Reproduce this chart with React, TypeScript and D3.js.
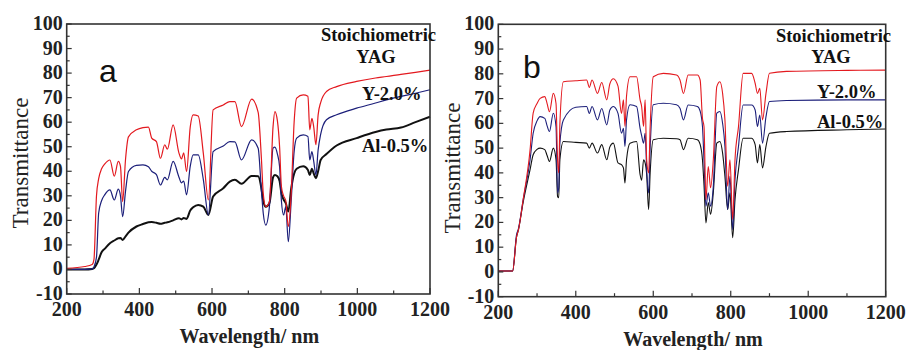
import React from "react";
import * as d3 from "d3";

// ── Data: panel a ─────────────────────────────────────────────
const WL_A = [
  200, 250, 270, 275, 282, 288, 296, 305, 319, 331, 342, 348, 354, 362, 370,
  392, 410, 425, 434, 447, 458, 470, 477, 493, 509, 516, 522, 530, 540, 548,
  562, 576, 590, 603, 631, 649, 663, 681, 709, 727, 736, 741, 748, 758, 768,
  773, 780, 786, 791, 797, 803, 810, 818, 826, 833, 851, 864, 869, 875, 880,
  886, 892, 899, 915, 943, 998, 1050, 1080, 1120, 1160, 1200,
];
const STOICH_A = [
  0.5, 1.2, 2, 4, 30, 37, 41, 43, 44.6, 38, 44, 42, 27.6, 45, 54,
  56.9, 57.8, 58, 53.5, 52.1, 45.3, 50.8, 49, 58.9, 47.4, 45, 47.5, 39.9, 58, 63,
  62.5, 47.4, 28.3, 65, 67, 68.4, 68.4, 58.2, 69.4, 64, 45, 31, 25.6, 27.6, 58.2,
  64.3, 60.5, 50, 33.8, 30, 28, 17.5, 31, 60, 69.8, 71.1, 70.6, 56.9, 61.6, 58,
  50.8, 62.9, 68, 72.5, 74.5, 76.6, 78, 78.6, 79.5, 80.3, 81.2,
];
const Y20_A = [
  0, 0, 0.2, 1, 5, 23, 28, 30.5, 32.4, 28.3, 32.7, 30, 21.5, 32, 39.9,
  42.4, 42.6, 41.8, 40, 38.6, 34.4, 37.5, 36.5, 44, 37.6, 35.3, 36, 30.4, 42, 46.7,
  46.7, 36.7, 22.2, 48, 50.3, 52.1, 52, 44.6, 52.8, 49.4, 32, 22.9, 18.1, 25.6, 49.4,
  49.8, 47, 41.9, 28, 22.2, 25.6, 11.3, 28.1, 48, 53.5, 54.8, 54.2, 44.6, 48, 44,
  38.5, 48.6, 55, 61, 63, 65.7, 67.8, 69.1, 70.5, 71.8, 73.2,
];
const AL05_A = [
  0, 0, 0.2, 0.5, 2, 4, 7, 8.5, 10.7, 11.8, 12.7, 12.8, 12, 13.5, 15,
  17.5, 18.5, 19.2, 19.3, 19, 18.6, 19, 19.2, 20, 20.9, 20.4, 21, 20.6, 24, 25.3,
  26.3, 25.6, 22.2, 29.7, 33.1, 35.8, 36.5, 34.9, 38.1, 38, 33, 28, 25.5, 27, 37.5,
  38.5, 38, 36, 31, 28.5, 27, 23.6, 33, 39, 41, 42, 40.5, 38.5, 41, 39,
  37.2, 40, 44.6, 47, 50.5, 53.5, 56, 57, 57.8, 60, 62.2,
];

// ── Data: panel b ─────────────────────────────────────────────
const WL_B = [
  200, 237, 247, 252, 264, 282, 290, 300, 308, 320, 326, 332, 342, 349, 353,
  356, 359, 368, 400, 428, 435, 442, 456, 467, 480, 488, 497, 509, 518, 523,
  527, 531, 540, 557, 566, 570, 575, 579, 583, 588, 592, 600, 626, 660, 669,
  678, 690, 714, 721, 727, 731, 736, 742, 748, 755, 764, 772, 779, 785, 792,
  798, 805, 811, 820, 832, 854, 863, 869, 875, 882, 891, 900, 944, 1100, 1200,
];
const STOICH_B = [
  0.4, 0.4, 14, 17, 29, 49.3, 64.1, 68, 70.1, 70.8, 68, 64.7, 72.1, 68, 45.3,
  40, 60, 76.8, 77.2, 77.5, 74.5, 77.5, 72.1, 76.5, 69.5, 76, 78, 75, 64, 69.5,
  58.7, 71, 78.8, 78.8, 69.5, 66.8, 58.7, 69.5, 45.3, 40, 58.7, 78.8, 80.2, 79.5, 77.5,
  72.1, 79.5, 79.5, 77.5, 62, 58.7, 29.2, 42.6, 34, 45.3, 74.8, 76.8, 72.1, 61.4, 34.6,
  45.3, 21.2, 45.3, 58.7, 80.2, 80.2, 76.2, 72.1, 74.2, 61.4, 72.1, 80.2, 81, 81.4, 81.5,
];
const Y20_B = [
  0.4, 0.4, 15, 17.5, 29, 45.3, 56, 61, 62.7, 62, 59, 56.7, 64.1, 58.7, 31.9,
  34, 52, 61.4, 66.5, 66.8, 64, 66.8, 61.4, 66, 59.4, 65.4, 66.8, 64, 56, 58,
  50.7, 61.4, 67.5, 66.8, 58, 55, 52, 56, 41.3, 31.9, 50, 67.5, 68.1, 67.5, 66.1,
  61.4, 67.4, 66.8, 65, 58.7, 45, 26.5, 32, 26.5, 34.6, 64.1, 64.8, 60, 50.7, 25.2,
  38.6, 17.1, 37.2, 50.7, 67.4, 67.4, 65.4, 58.7, 63.4, 52, 62.7, 68.8, 69.2, 69.5, 69.5,
];
const AL05_B = [
  0.4, 0.4, 14, 17, 28, 41.3, 47.3, 49.5, 50, 49.4, 47, 44.6, 50, 45.3, 30.5,
  30, 45.3, 52.7, 52.3, 52, 50, 52, 48, 51.4, 45.3, 50.5, 52, 44, 43.3, 42,
  35.9, 45.3, 52, 52.7, 39.3, 37, 45.3, 44, 39.3, 25.2, 40, 53.4, 54, 53.8, 53.4,
  49.4, 54, 53.4, 51.5, 45.3, 35, 19.8, 28, 23.3, 32, 52, 52.7, 48, 38.6, 25.2,
  32, 13.8, 29.2, 41.3, 54, 54, 51.4, 44, 51.4, 42, 50.7, 56, 56.7, 57.4, 57.7,
];

const X_TICKS = [200, 400, 600, 800, 1000, 1200];
const Y_TICKS = [-10, 0, 10, 20, 30, 40, 50, 60, 70, 80, 90, 100];
const LEGEND = ["Stoichiometric", "YAG", "Y-2.0%", "Al-0.5%"];

const RED = "#e3191f";
const BLUE = "#1c1f7a";
const BLACK = "#111111";
const FRAME = "#333";
const SERIF = "'Liberation Serif', 'Times New Roman', serif";
const SANS = "'Liberation Sans', Arial, sans-serif";

interface PanelProps {
  left: number;
  right: number;
  top: number;
  bottom: number;
  letter: string;
  letterX: number;
  letterY: number;
  wl: number[];
  series: { values: number[]; color: string; width: number }[];
  legendX: number;
  legendY: number[];
  titleX: number;
  yTitleX: number;
  yTitleY: number;
}

function Panel(p: PanelProps) {
  const x = d3.scaleLinear().domain([200, 1200]).range([p.left, p.right]);
  const y = d3.scaleLinear().domain([-10, 100]).range([p.bottom, p.top]);
  const line = (vals: number[]) =>
    d3
      .line<number>()
      .x((_d, i) => x(p.wl[i]))
      .y((d) => y(d))
      .curve(d3.curveMonotoneX)(vals) ?? "";

  const minorX = d3.range(300, 1200, 200);
  const minorY = d3.range(-5, 100, 10);

  return (
    <g>
      {p.series.map((s, i) => (
        <path key={i} d={line(s.values)} fill="none" stroke={s.color} strokeWidth={s.width} strokeLinejoin="round" />
      ))}

      <rect x={p.left} y={p.top} width={p.right - p.left} height={p.bottom - p.top} fill="none" stroke={FRAME} strokeWidth={1.6} />

      {/* ticks — inward, bottom and left only */}
      {X_TICKS.map((t) => (
        <line key={t} x1={x(t)} x2={x(t)} y1={p.bottom} y2={p.bottom - 6} stroke={FRAME} strokeWidth={1.2} />
      ))}
      {minorX.map((t) => (
        <line key={t} x1={x(t)} x2={x(t)} y1={p.bottom} y2={p.bottom - 3.5} stroke={FRAME} strokeWidth={1.2} />
      ))}
      {Y_TICKS.map((t) => (
        <line key={t} x1={p.left} x2={p.left + 5} y1={y(t)} y2={y(t)} stroke={FRAME} strokeWidth={1.2} />
      ))}
      {minorY.map((t) => (
        <line key={t} x1={p.left} x2={p.left + 3} y1={y(t)} y2={y(t)} stroke={FRAME} strokeWidth={1.2} />
      ))}

      {X_TICKS.map((t) => (
        <text key={t} x={x(t)} y={p.bottom + 22} textAnchor="middle" fontFamily={SERIF} fontWeight="bold" fontSize={20} fill="#222">
          {t}
        </text>
      ))}
      {Y_TICKS.map((t) => (
        <text key={t} x={p.left - 4} y={y(t) + 6} textAnchor="end" fontFamily={SERIF} fontWeight="bold" fontSize={20} fill="#222">
          {t}
        </text>
      ))}

      <text
        transform={`translate(${p.yTitleX},${p.yTitleY}) rotate(-90)`}
        textAnchor="middle"
        fontFamily={SERIF}
        fontSize={23}
        fill="#222"
      >
        Transmittance
      </text>
      <text x={(p.left + p.right) / 2 + 1} y={p.bottom + 49} textAnchor="middle" fontFamily={SERIF} fontWeight="bold" fontSize={20} fill="#222">
        Wavelength/ nm
      </text>

      <text x={p.letterX} y={p.letterY} fontFamily={SANS} fontSize={32} fill="#111">
        {p.letter}
      </text>

      {/* direct labels */}
      <text x={p.titleX} y={p.legendY[0]} textAnchor="end" fontFamily={SERIF} fontWeight="bold" fontSize={18.5} fill="#111">
        {LEGEND[0]}
      </text>
      <text x={p.titleX - 60} y={p.legendY[1]} textAnchor="middle" fontFamily={SERIF} fontWeight="bold" fontSize={18.5} fill="#111">
        {LEGEND[1]}
      </text>
      <text x={p.legendX} y={p.legendY[2]} fontFamily={SERIF} fontWeight="bold" fontSize={18.5} fill="#111">
        {LEGEND[2]}
      </text>
      <text x={p.legendX} y={p.legendY[3]} fontFamily={SERIF} fontWeight="bold" fontSize={18.5} fill="#111">
        {LEGEND[3]}
      </text>
    </g>
  );
}

export default function App() {
  return (
    <div style={{ position: "absolute", left: 0, top: 0 }}>
      <svg width={908} height={350} style={{ display: "block", background: "#fff" }}>
        <Panel
          left={66.7}
          right={430}
          top={24}
          bottom={294}
          letter="a"
          letterX={99}
          letterY={82}
          wl={WL_A}
          series={[
            { values: AL05_A, color: BLACK, width: 2 },
            { values: Y20_A, color: BLUE, width: 1.2 },
            { values: STOICH_A, color: RED, width: 1.2 },
          ]}
          titleX={436}
          legendX={362}
          legendY={[41, 63, 100, 152]}
          yTitleX={28}
          yTitleY={163}
        />
        <Panel
          left={498.3}
          right={885.7}
          top={24.3}
          bottom={296.7}
          letter="b"
          letterX={523}
          letterY={78}
          wl={WL_B}
          series={[
            { values: AL05_B, color: BLACK, width: 1.1 },
            { values: Y20_B, color: BLUE, width: 1.1 },
            { values: STOICH_B, color: RED, width: 1.1 },
          ]}
          titleX={891}
          legendX={817}
          legendY={[42, 63, 98, 128]}
          yTitleX={460}
          yTitleY={168}
        />
      </svg>
    </div>
  );
}
